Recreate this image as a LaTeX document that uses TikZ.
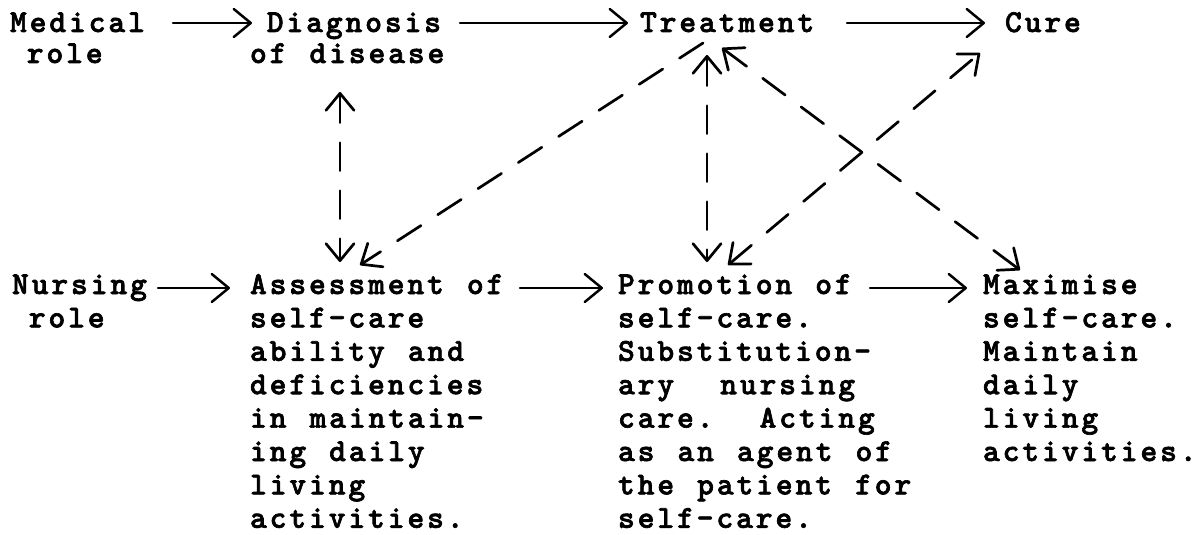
\documentclass[tikz,border=0pt]{standalone}
\usepackage{fontspec}
\newfontfamily\typewriter{lmmonolt10-bold.otf}[LetterSpace=9, WordSpace=1.17, FakeBold=2]
\usetikzlibrary{arrows.meta}
\begin{document}
\begin{tikzpicture}[x=1pt,y=-1pt,
  txt/.style={inner sep=0pt, outer sep=0pt, anchor=north west, align=left,
    font=\typewriter\frenchspacing\fontsize{32pt}{33.4pt}\selectfont},
  toprow/.style={txt, font=\typewriter\frenchspacing\fontsize{32pt}{31pt}\selectfont},
  flow/.style={line width=2.5pt, line cap=round, -{head}},
  link/.style={line width=2.7pt, line cap=round, dash pattern=on 28pt off 20pt},
  head/.tip={Straight Barb[length=17pt,width=28pt,line cap=round,line join=round]}
]
\fill[white] (0,0) rectangle (1204,535);
\useasboundingbox (0,0) rectangle (1204,535);

% first line of every block: a strut of 26pt above the baseline
\def\firstline{\rule{0pt}{26pt}}

% medical row
\node[toprow] (medical) at (10,6) {\firstline Medical\\\hphantom{x}role};
\node[toprow] (diag) at (250,6) {\firstline\hphantom{x}Diagnosis\\of disease};
\node[toprow] (treat) at (640,6) {\firstline Treatment};
\node[toprow] (cure) at (1005,6) {\firstline Cure};

% nursing row
\node[txt] (nursing) at (12,268) {\firstline Nursing\\\hphantom{x}role};
\node[txt] (assess) at (250,268) {\firstline Assessment of\\self-care\\ability and\\deficiencies\\in maintain-\\ing daily\\living\\activities.};
\node[txt] (promo) at (618,268) {\firstline Promotion of\\self-care.\\Substitution-\\ary\ \ nursing\\care.\ \ Acting\\as an agent of\\the patient for\\self-care.};
\node[txt] (maxim) at (983,268) {\firstline Maximise\\self-care.\\Maintain\\daily\\living\\activities.};

% solid flow arrows
\draw[flow] ([shift={(163,17)}]medical.north west) -- ([shift={(2,17)}]diag.north west);
\draw[flow] ([shift={(210,17)}]diag.north west) -- ([shift={(-12,17)}]treat.north west);
\draw[flow] ([shift={(207,17)}]treat.north west) -- ([shift={(-20,17)}]cure.north west);
\draw[flow] ([shift={(146,20)}]nursing.north west) -- ([shift={(-20,20)}]assess.north west);
\draw[flow] ([shift={(270,20)}]assess.north west) -- ([shift={(-15,20)}]promo.north west);
\draw[flow] ([shift={(252,20)}]promo.north west) -- ([shift={(-16,20)}]maxim.north west);

% dashed links between the two roles
\draw[link, {head}-{head}] ([shift={(90,86)}]diag.north west) -- ([shift={(90,-6)}]assess.north west);
\draw[link, {head}-{head}] ([shift={(67,49)}]treat.north west) -- ([shift={(89,-6)}]promo.north west);
\draw[link, -{head}] ([shift={(63,37)}]treat.north west) -- ([shift={(110,-3)}]assess.north west);
\draw[link, {head}-{head}] ([shift={(110,-3)}]promo.north west) -- ([shift={(-25,47)}]cure.north west);
\draw[link, {head}-{head}] ([shift={(82,42)}]treat.north west) -- ([shift={(37,2)}]maxim.north west);
\end{tikzpicture}
\end{document}
